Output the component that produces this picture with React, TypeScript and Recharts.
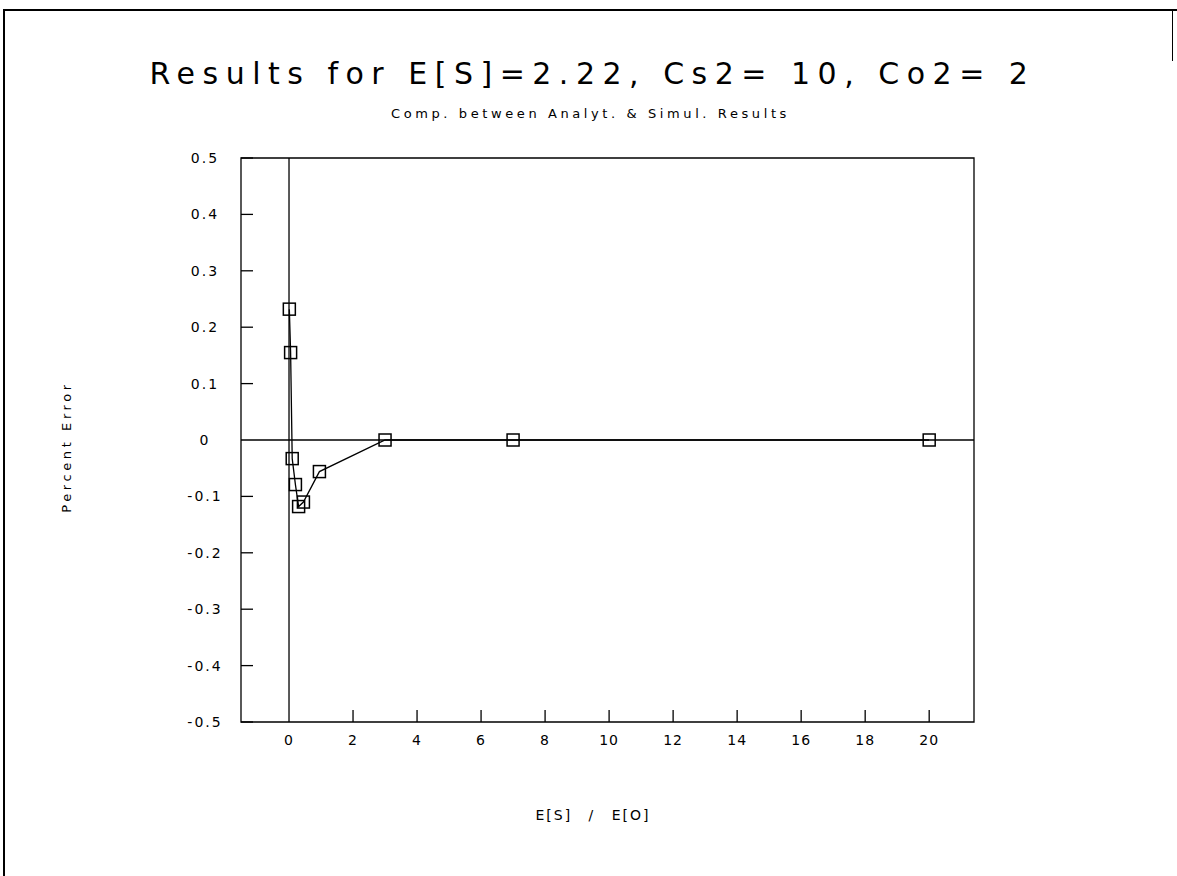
import { ComposedChart, Line, XAxis, YAxis, ReferenceLine, ReferenceArea } from 'recharts';

// E[S] / E[O] ratio and percent error
const ratio = [0.01, 0.05, 0.1, 0.2, 0.3, 0.45, 0.95, 3, 7, 20];
const percentError = [0.232, 0.155, -0.033, -0.079, -0.118, -0.11, -0.056, 0, 0, 0];

const xTicks = [0, 2, 4, 6, 8, 10, 12, 14, 16, 18, 20];
const yTicks = [-0.5, -0.4, -0.3, -0.2, -0.1, 0, 0.1, 0.2, 0.3, 0.4, 0.5];
const yTickLabels = ['-0.5', '-0.4', '-0.3', '-0.2', '-0.1', '0', '0.1', '0.2', '0.3', '0.4', '0.5'];

const data = ratio.map((x, i) => ({ x, y: percentError[i] }));

const FONT = '"DejaVu Sans", sans-serif';

const YTick = (props: any) => {
  const { x, y, payload, index } = props;
  const v = payload.value;
  return (
    <g>
      {v !== 0 && <line x1={x} x2={x + 12} y1={y} y2={y} stroke="#000" strokeWidth={1.3} />}
      <text
        x={x - 36}
        y={y}
        textAnchor="middle"
        dominantBaseline="central"
        fontFamily={FONT}
        fontSize={14}
        letterSpacing={2}
        fill="#000"
      >
        {yTickLabels[index]}
      </text>
    </g>
  );
};

const XTick = (props: any) => {
  const { x, y, payload } = props;
  return (
    <g>
      {payload.value !== 0 && <line x1={x} x2={x} y1={y} y2={y - 12} stroke="#000" strokeWidth={1.3} />}
      <text
        x={x}
        y={y + 18}
        textAnchor="middle"
        dominantBaseline="central"
        fontFamily={FONT}
        fontSize={14}
        letterSpacing={1}
        fill="#000"
      >
        {payload.value}
      </text>
    </g>
  );
};

const Square = (p: any) => (
  <rect
    key={p.index}
    x={p.cx - 6}
    y={p.cy - 6}
    width={12}
    height={12}
    fill="none"
    stroke="#000"
    strokeWidth={1.5}
  />
);

export default function App() {
  return (
    <div style={{ position: 'absolute', left: 0, top: 0, width: 1177, height: 876, background: '#fff', fontFamily: FONT }}>
      {/* page frame */}
      <div style={{ position: 'absolute', left: 3, top: 9, width: 1174, height: 2, background: '#000' }} />
      <div style={{ position: 'absolute', left: 3, top: 9, width: 2, height: 867, background: '#000' }} />
      <div style={{ position: 'absolute', left: 1172, top: 9, width: 1, height: 52, background: '#000' }} />

      <div
        style={{
          position: 'absolute',
          left: 4,
          width: 1177,
          top: 56,
          textAlign: 'center',
          fontSize: 30,
          letterSpacing: 7.5,
          whiteSpace: 'pre',
        }}
      >
        Results for E[S]=2.22, Cs2= 10, Co2= 2
      </div>
      <div
        style={{
          position: 'absolute',
          left: 2,
          width: 1177,
          top: 106,
          textAlign: 'center',
          fontSize: 13,
          letterSpacing: 3.6,
        }}
      >
        Comp. between Analyt. &amp; Simul. Results
      </div>

      <div style={{ position: 'absolute', left: 0, top: 0 }}>
        <ComposedChart
          width={1177}
          height={876}
          data={data}
          margin={{ top: 158, right: 203, bottom: 124, left: 181 }}
        >
          <XAxis
            dataKey="x"
            type="number"
            domain={[-1.5, 21.4]}
            ticks={xTicks}
            interval={0}
            allowDataOverflow
            axisLine={false}
            tickLine={false}
            tickSize={0}
            tickMargin={0}
            height={30}
            tick={<XTick />}
          />
          <YAxis
            type="number"
            domain={[-0.5, 0.5]}
            ticks={yTicks}
            interval={0}
            allowDataOverflow
            axisLine={false}
            tickLine={false}
            tickSize={0}
            tickMargin={0}
            width={60}
            tick={<YTick />}
          />
          <ReferenceArea x1={-1.5} x2={21.4} y1={-0.5} y2={0.5} fill="none" stroke="#000" strokeWidth={1.3} />
          <ReferenceLine x={0} stroke="#000" strokeWidth={1.3} />
          <ReferenceLine y={0} stroke="#000" strokeWidth={1.3} />
          <Line
            dataKey="y"
            type="linear"
            stroke="#000"
            strokeWidth={1.3}
            dot={Square}
            activeDot={false}
            isAnimationActive={false}
          />
        </ComposedChart>
      </div>

      <div
        style={{
          position: 'absolute',
          left: 66,
          top: 447,
          transform: 'translate(-50%, -50%) rotate(-90deg)',
          fontSize: 13,
          letterSpacing: 3.6,
          whiteSpace: 'nowrap',
        }}
      >
        Percent Error
      </div>
      <div
        style={{
          position: 'absolute',
          left: 593,
          top: 815,
          transform: 'translate(-50%, -50%)',
          fontSize: 14,
          letterSpacing: 2,
          wordSpacing: 10,
          whiteSpace: 'nowrap',
        }}
      >
        E[S] / E[O]
      </div>
    </div>
  );
}
